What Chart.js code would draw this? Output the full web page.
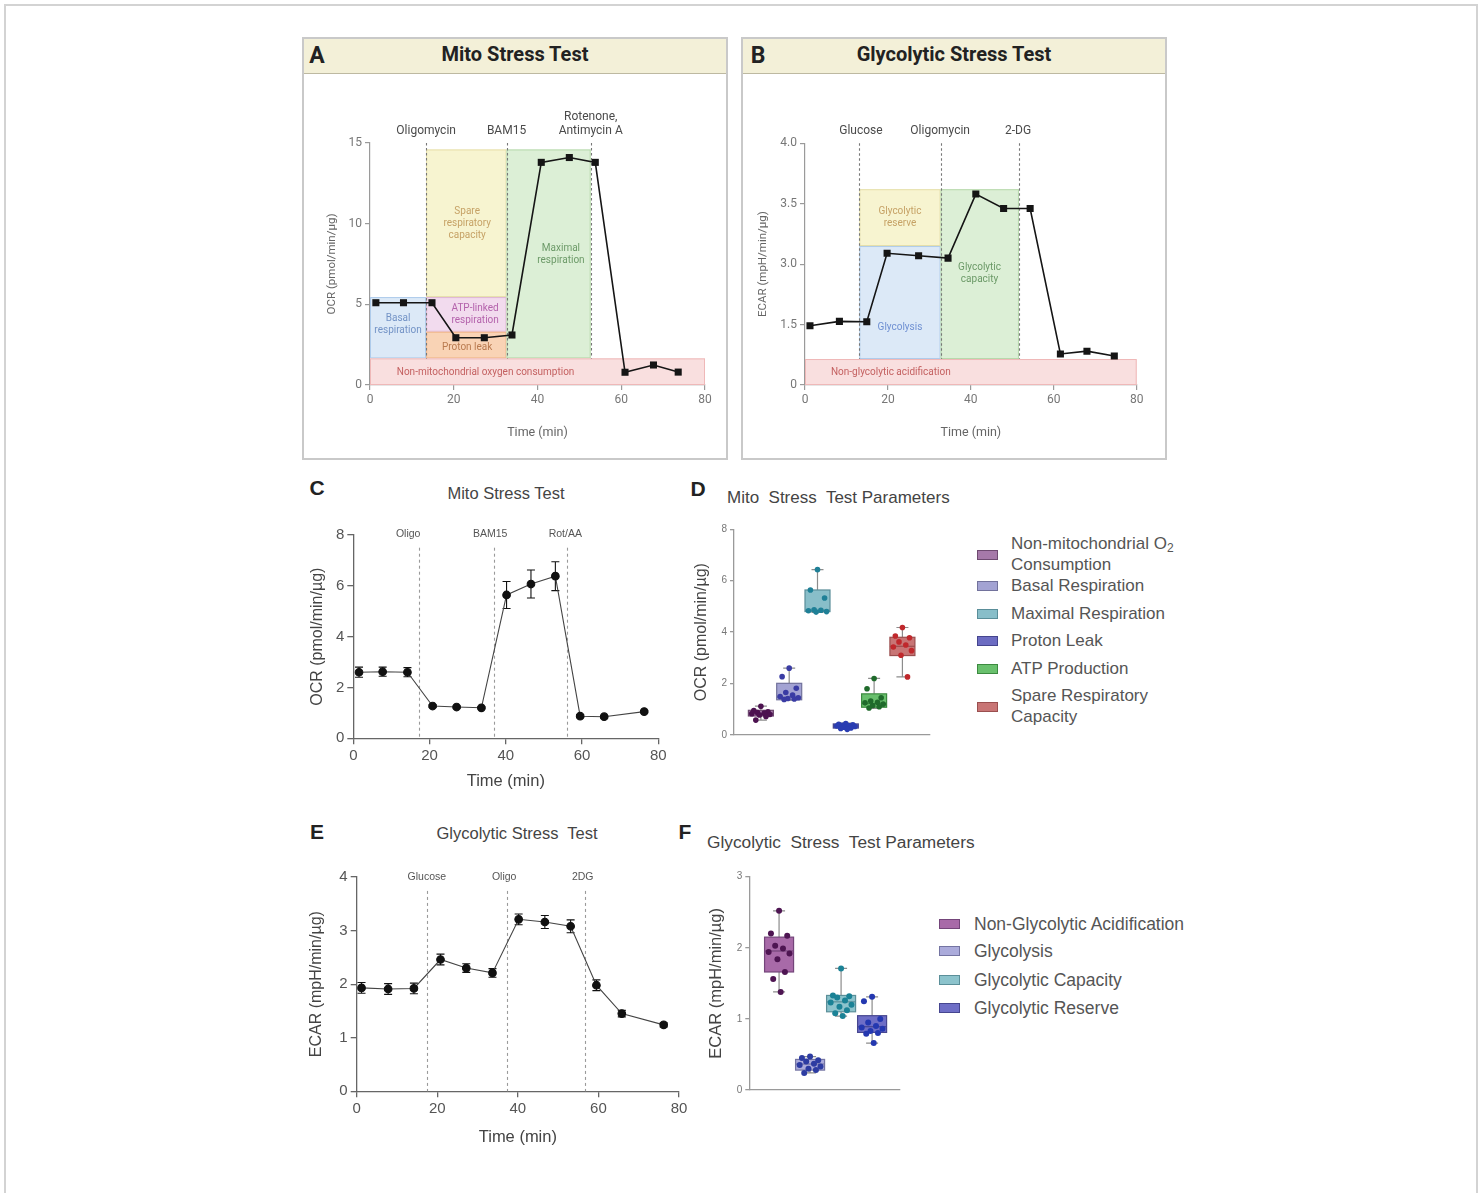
<!DOCTYPE html>
<html>
<head>
<meta charset="utf-8">
<script src="https://cdn.jsdelivr.net/npm/chart.js@4.4.1/dist/chart.umd.min.js"></script>
<style>
  body { margin: 0; background: #fff; width: 1483px; height: 1193px; overflow: hidden; position: relative;
         font-family: 'Liberation Sans', Arial, sans-serif; }
  #frame { position: absolute; left: 4px; top: 4px; width: 1470px; height: 1200px;
           border: 2px solid #d3d3d3; border-bottom: none; }
  .panel { position: absolute; top: 37px; width: 426px; height: 423px; box-sizing: border-box;
           border: 2px solid #c9c9c9; background: #fff; }
  .head { position: absolute; left: 0; top: 0; right: 0; height: 34px; background: #f3f0d8;
          border-bottom: 1.5px solid #bdb9a1; }
  .t { position: absolute; white-space: pre; line-height: 1; }
  .sw { position: absolute; width: 21px; height: 10px; box-sizing: border-box; border: 1px solid; }
</style>
</head>
<body>
<div id="frame"></div>
<div class="panel" style="left:302px"><div class="head"></div></div>
<div class="panel" style="left:741px"><div class="head"></div></div>

<script>
/* ---------- data ---------- */
// A: schematic mito stress test (OCR)
const aTime = [1.4, 8, 14.8, 20.5, 27.3, 33.9, 40.9, 47.6, 53.8, 60.9, 67.7, 73.6];
const aOcr = [5.1, 5.1, 5.1, 2.93, 2.93, 3.1, 13.8, 14.1, 13.8, 0.79, 1.24, 0.8];

// B: schematic glycolytic stress test (ECAR), y axis has uneven tick values
const bTime = [1.2, 8.3, 14.9, 19.8, 27.4, 34.5, 41.2, 47.9, 54.3, 61.6, 68.0, 74.6];
const bEcar = [1.47, 1.58, 1.57, 3.09, 3.07, 3.05, 3.58, 3.46, 3.46, 0.77, 0.84, 0.72];
const bTickVals = [0, 1.5, 3.0, 3.5, 4.0];
const bTickLabels = ['0', '1.5', '3.0', '3.5', '4.0'];

// C: measured OCR, mean and error
const cTime = [1.5, 7.7, 14.2, 20.8, 27.1, 33.6, 40.2, 46.6, 53.0, 59.5, 65.8, 76.3];
const cOcr = [2.6, 2.62, 2.6, 1.27, 1.23, 1.2, 5.64, 6.07, 6.38, 0.87, 0.85, 1.05];
const cErr = [0.2, 0.18, 0.18, 0.05, 0.04, 0.04, 0.53, 0.55, 0.57, 0.05, 0.04, 0.04];

// E: measured ECAR, mean and error
const eTime = [1.2, 7.8, 14.2, 20.8, 27.2, 33.7, 40.2, 46.7, 53.1, 59.5, 65.8, 76.2];
const eEcar = [1.93, 1.91, 1.92, 2.46, 2.3, 2.21, 3.21, 3.16, 3.08, 1.98, 1.45, 1.24];
const eErr = [0.1, 0.1, 0.1, 0.1, 0.08, 0.08, 0.1, 0.12, 0.12, 0.1, 0.06, 0.04];

// D: mito stress test parameters (box plots)
const dNames = ['Non-mitochondrial O2 Consumption', 'Basal Respiration', 'Maximal Respiration',
                'Proton Leak', 'ATP Production', 'Spare Respiratory Capacity'];
const dMin = [0.58, 1.36, 4.77, 0.22, 1.03, 2.26];
const dQ1  = [0.74, 1.37, 4.80, 0.27, 1.08, 3.09];
const dMed = [0.84, 1.47, 4.85, 0.35, 1.22, 3.45];
const dQ3  = [0.96, 2.01, 5.64, 0.43, 1.60, 3.80];
const dMax = [1.12, 2.60, 6.43, 0.46, 2.20, 4.18];
const dPoints = [
  [1.12, 0.95, 0.9, 0.87, 0.85, 0.83, 0.8, 0.78, 0.72, 0.58],
  [2.6, 2.27, 1.82, 1.65, 1.55, 1.5, 1.45, 1.42, 1.4, 1.38],
  [6.43, 5.64, 5.33, 4.87, 4.85, 4.83, 4.8, 4.78],
  [0.45, 0.42, 0.4, 0.38, 0.36, 0.35, 0.33, 0.3, 0.27, 0.25, 0.22],
  [2.2, 1.8, 1.45, 1.32, 1.27, 1.25, 1.2, 1.15, 1.1, 1.05],
  [4.18, 3.85, 3.78, 3.62, 3.5, 3.42, 3.28, 3.1, 2.26]
];

// F: glycolytic stress test parameters (box plots)
const fNames = ['Non-Glycolytic Acidification', 'Glycolysis', 'Glycolytic Capacity', 'Glycolytic Reserve'];
const fMin = [1.38, 0.24, 1.04, 0.66];
const fQ1  = [1.66, 0.28, 1.10, 0.81];
const fMed = [1.955, 0.365, 1.24, 0.89];
const fQ3  = [2.15, 0.43, 1.33, 1.045];
const fMax = [2.52, 0.47, 1.71, 1.31];
const fPoints = [
  [2.52, 2.2, 2.17, 2.03, 1.99, 1.94, 1.92, 1.84, 1.66, 1.56, 1.38],
  [0.47, 0.45, 0.42, 0.4, 0.37, 0.35, 0.33, 0.3, 0.28, 0.24],
  [1.71, 1.33, 1.32, 1.3, 1.26, 1.23, 1.2, 1.17, 1.12, 1.08, 1.04],
  [1.31, 1.25, 1.0, 0.95, 0.9, 0.88, 0.86, 0.83, 0.8, 0.79, 0.66]
];

/* ---------- helpers ---------- */
const ROBOTO = 'Roboto';
const ARIAL = 'Liberation Sans';
const JITTER = [0, -0.25, 0.25, -0.12, 0.12, -0.32, 0.32, -0.05, 0.18, -0.18, 0.05, 0.28];

// piecewise map for panel B's uneven axis: tick i sits at axis position i
function toB(v) {
  for (let i = 1; i < bTickVals.length; i++) {
    if (v <= bTickVals[i]) {
      return i - 1 + (v - bTickVals[i - 1]) / (bTickVals[i] - bTickVals[i - 1]);
    }
  }
  return bTickVals.length - 1;
}

function txt(s, x, y, css, align) {
  const d = document.createElement('div');
  d.className = 't';
  d.innerHTML = s;
  d.style.cssText += `left:${x}px;top:${y}px;${css}`;
  d.style.transform = align === 'left' ? 'translate(0,-50%)' : 'translate(-50%,-50%)';
  document.body.appendChild(d);
}

function makeCanvas(left, top, w, h) {
  const c = document.createElement('canvas');
  c.width = w;
  c.height = h;
  c.style.cssText = `position:absolute;left:${left}px;top:${top}px;width:${w}px;height:${h}px`;
  document.body.appendChild(c);
  return c;
}

function xy(xs, ys) {
  return xs.map((t, i) => ({x: t, y: ys[i]}));
}

// regions, injection markers, box plots and error bars, all placed through the chart scales
const extras = {
  id: 'extras',
  beforeDatasetsDraw(chart, args, o) {
    const {ctx, chartArea: ca, scales: {x, y}} = chart;
    ctx.save();
    (o.regions || []).forEach(r => {
      const x0 = x.getPixelForValue(r.x0), x1 = x.getPixelForValue(r.x1);
      const y0 = y.getPixelForValue(r.y0), y1 = y.getPixelForValue(r.y1);
      ctx.fillStyle = r.fill;
      ctx.fillRect(x0, y1, x1 - x0, y0 - y1);
      ctx.strokeStyle = r.stroke;
      ctx.lineWidth = 1;
      ctx.strokeRect(x0 + 0.5, y1 + 0.5, x1 - x0 - 1, y0 - y1 - 1);
    });
    (o.regions || []).forEach(r => {
      ctx.fillStyle = r.color;
      ctx.font = `10px ${ROBOTO}`;
      ctx.textAlign = 'center';
      ctx.textBaseline = 'middle';
      const px = x.getPixelForValue(r.lx), py = y.getPixelForValue(r.ly);
      const n = r.label.length;
      r.label.forEach((l, i) => ctx.fillText(l, px, py + (i - (n - 1) / 2) * 12));
    });
    (o.markers || []).forEach(m => {
      const px = Math.round(x.getPixelForValue(m.x)) + 0.5;
      ctx.strokeStyle = o.markerColor;
      ctx.lineWidth = 1.1;
      ctx.setLineDash(o.dash);
      ctx.beginPath();
      ctx.moveTo(px, y.getPixelForValue(m.top));
      ctx.lineTo(px, y.getPixelForValue(m.bottom));
      ctx.stroke();
      ctx.setLineDash([]);
      ctx.fillStyle = o.labelColor;
      ctx.font = o.labelFont;
      ctx.textAlign = 'center';
      ctx.textBaseline = 'middle';
      const lx = x.getPixelForValue(m.lx !== undefined ? m.lx : m.x);
      const n = m.label.length;
      m.label.forEach((l, i) => ctx.fillText(l, lx, ca.top + o.labelDy - (n - 1 - i) * 14));
    });
    (o.boxes || []).forEach(b => {
      const cx = x.getPixelForValue(b.x), hw = o.boxWidth / 2, cw = o.capWidth / 2;
      const pMin = y.getPixelForValue(b.min), pQ1 = y.getPixelForValue(b.q1);
      const pMed = y.getPixelForValue(b.med), pQ3 = y.getPixelForValue(b.q3);
      const pMax = y.getPixelForValue(b.max);
      ctx.strokeStyle = '#8c8c8c';
      ctx.lineWidth = 1.2;
      ctx.beginPath();
      ctx.moveTo(cx, pMax); ctx.lineTo(cx, pQ3);
      ctx.moveTo(cx, pQ1); ctx.lineTo(cx, pMin);
      ctx.moveTo(cx - cw, pMax); ctx.lineTo(cx + cw, pMax);
      ctx.moveTo(cx - cw, pMin); ctx.lineTo(cx + cw, pMin);
      ctx.stroke();
      ctx.fillStyle = b.fill;
      ctx.fillRect(cx - hw, pQ3, 2 * hw, pQ1 - pQ3);
      ctx.strokeStyle = b.stroke;
      ctx.strokeRect(cx - hw, pQ3, 2 * hw, pQ1 - pQ3);
      ctx.beginPath();
      ctx.moveTo(cx - hw, pMed); ctx.lineTo(cx + hw, pMed);
      ctx.stroke();
    });
    if (o.errors) {
      ctx.strokeStyle = '#111';
      ctx.lineWidth = 1.1;
      o.errors.values.forEach((v, i) => {
        const px = x.getPixelForValue(o.errors.xs[i]);
        const top = y.getPixelForValue(v + o.errors.err[i]);
        const bot = y.getPixelForValue(v - o.errors.err[i]);
        ctx.beginPath();
        ctx.moveTo(px, top); ctx.lineTo(px, bot);
        ctx.moveTo(px - 4, top); ctx.lineTo(px + 4, top);
        ctx.moveTo(px - 4, bot); ctx.lineTo(px + 4, bot);
        ctx.stroke();
      });
    }
    ctx.restore();
  }
};
Chart.register(extras);

function axis(opts) {
  return {
    type: 'linear',
    min: opts.min,
    max: opts.max,
    afterFit: opts.fit,
    ticks: {
      display: opts.ticks !== false,
      stepSize: opts.step,
      color: opts.tickColor,
      font: {family: opts.family, size: opts.tickSize},
      padding: 3,
      maxRotation: 0,
      autoSkip: false,
      callback: opts.callback
    },
    grid: {display: opts.ticks !== false, drawOnChartArea: false, drawTicks: true,
           tickLength: opts.tickLength, color: opts.lineColor, lineWidth: opts.lineWidth},
    border: {display: true, color: opts.lineColor, width: opts.lineWidth},
    title: {display: !!opts.title, text: opts.title, color: opts.titleColor,
            font: {family: opts.family, size: opts.titleSize},
            padding: {top: opts.titlePad, bottom: opts.titlePad}}
  };
}

function baseOptions(pad, extra, xScale, yScale) {
  return {
    responsive: false,
    animation: false,
    layout: {padding: {top: pad.top, right: pad.right, left: 0, bottom: 0}},
    plugins: {legend: {display: false}, tooltip: {enabled: false}, extras: extra},
    scales: {x: xScale, y: yScale}
  };
}

/* ---------- A: Mito Stress Test schematic ---------- */
txt('A', 317, 55, `font:bold 23px ${ROBOTO};color:#222`);
txt('Mito Stress Test', 515, 54, `font:bold 20px ${ROBOTO};color:#222`);

const aRegions = [
  {x0: 0, x1: 13.4, y0: 1.65, y1: 5.45, fill: '#dce9f7', stroke: '#aecbeb', color: '#7393c6', lx: 6.7, ly: 3.78, label: ['Basal', 'respiration']},
  {x0: 13.4, x1: 32.6, y0: 5.45, y1: 14.6, fill: '#f7f4d0', stroke: '#e6dfaa', color: '#c6a266', lx: 23.2, ly: 10.0, label: ['Spare', 'respiratory', 'capacity']},
  {x0: 13.4, x1: 32.6, y0: 3.3, y1: 5.45, fill: '#f2dbee', stroke: '#dfb6d4', color: '#b463ac', lx: 25.1, ly: 4.4, label: ['ATP-linked', 'respiration']},
  {x0: 13.4, x1: 32.6, y0: 1.65, y1: 3.3, fill: '#f9d3b5', stroke: '#efb68c', color: '#b97a4f', lx: 23.2, ly: 2.3, label: ['Proton leak']},
  {x0: 32.6, x1: 52.7, y0: 1.65, y1: 14.6, fill: '#dcefd6', stroke: '#b6d9ab', color: '#6c9a68', lx: 45.6, ly: 8.06, label: ['Maximal', 'respiration']},
  {x0: 0, x1: 80, y0: 0, y1: 1.65, fill: '#f9dfdf', stroke: '#efb8b8', color: '#c46161', lx: 27.6, ly: 0.8, label: ['Non-mitochondrial oxygen consumption']}
];
const aMarkers = [
  {x: 13.4, top: 15, bottom: 1.65, label: ['Oligomycin']},
  {x: 32.6, top: 15, bottom: 1.65, label: ['BAM15']},
  {x: 52.7, top: 15, bottom: 1.65, label: ['Rotenone,', 'Antimycin A']}
];

new Chart(makeCanvas(310, 80, 410, 370), {
  type: 'line',
  data: {datasets: [{data: xy(aTime, aOcr), borderColor: '#151515', borderWidth: 1.6,
                     pointStyle: 'rect', pointRadius: 5, pointBackgroundColor: '#151515',
                     pointBorderColor: '#151515', pointBorderWidth: 0}]},
  options: baseOptions({top: 63, right: 15},
    {regions: aRegions, markers: aMarkers, markerColor: '#777', dash: [2.5, 2.5],
     labelColor: '#4a4a4a', labelFont: `12px ${ROBOTO}`, labelDy: -12.5},
    axis({min: 0, max: 80, step: 20, family: ROBOTO, tickSize: 12, tickColor: '#777', tickLength: 5,
          lineColor: '#9a9a9a', lineWidth: 1.2, title: 'Time (min)', titleColor: '#666', titleSize: 12.5,
          titlePad: 10, fit: s => { s.height = 65; }}),
    axis({min: 0, max: 15, step: 5, family: ROBOTO, tickSize: 12, tickColor: '#777', tickLength: 5,
          lineColor: '#9a9a9a', lineWidth: 1.2, title: 'OCR (pmol/min/µg)', titleColor: '#666', titleSize: 11.5,
          titlePad: 14.8, fit: s => { s.width = 60; }}))
});

/* ---------- B: Glycolytic Stress Test schematic ---------- */
txt('B', 758, 55, `font:bold 23px ${ROBOTO};color:#222`);
txt('Glycolytic Stress Test', 954, 54, `font:bold 20px ${ROBOTO};color:#222`);

const bRegions = [
  {x0: 13.1, x1: 32.7, y0: 0.645, y1: 3.15, fill: '#dce9f7', stroke: '#aecbeb', color: '#6f90d2', lx: 22.9, ly: 1.42, label: ['Glycolysis']},
  {x0: 13.1, x1: 32.7, y0: 3.15, y1: 3.62, fill: '#f7f4d0', stroke: '#e6dfaa', color: '#c6a266', lx: 22.9, ly: 3.39, label: ['Glycolytic', 'reserve']},
  {x0: 32.7, x1: 51.6, y0: 0.645, y1: 3.62, fill: '#dcefd6', stroke: '#b6d9ab', color: '#6c9a68', lx: 42.1, ly: 2.76, label: ['Glycolytic', 'capacity']},
  {x0: 0, x1: 80, y0: 0, y1: 0.645, fill: '#f9dfdf', stroke: '#efb8b8', color: '#c46161', lx: 20.7, ly: 0.32, label: ['Non-glycolytic acidification']}
].map(r => Object.assign({}, r, {y0: toB(r.y0), y1: toB(r.y1), ly: toB(r.ly)}));
const bMarkers = [
  {x: 13.1, lx: 13.5, top: toB(4.0), bottom: toB(0.645), label: ['Glucose']},
  {x: 32.7, lx: 32.6, top: toB(4.0), bottom: toB(0.645), label: ['Oligomycin']},
  {x: 51.6, lx: 51.4, top: toB(4.0), bottom: toB(0.645), label: ['2-DG']}
];

new Chart(makeCanvas(750, 80, 405, 370), {
  type: 'line',
  data: {datasets: [{data: xy(bTime, bEcar.map(toB)), borderColor: '#151515', borderWidth: 1.6,
                     pointStyle: 'rect', pointRadius: 5, pointBackgroundColor: '#151515',
                     pointBorderColor: '#151515', pointBorderWidth: 0}]},
  options: baseOptions({top: 63.3, right: 18.3},
    {regions: bRegions, markers: bMarkers, markerColor: '#777', dash: [2.5, 2.5],
     labelColor: '#4a4a4a', labelFont: `12px ${ROBOTO}`, labelDy: -12.5},
    axis({min: 0, max: 80, step: 20, family: ROBOTO, tickSize: 12, tickColor: '#777', tickLength: 5,
          lineColor: '#9a9a9a', lineWidth: 1.2, title: 'Time (min)', titleColor: '#666', titleSize: 12.5,
          titlePad: 10, fit: s => { s.height = 65; }}),
    axis({min: 0, max: bTickVals.length - 1, step: 1, family: ROBOTO, tickSize: 12, tickColor: '#777', tickLength: 5,
          lineColor: '#9a9a9a', lineWidth: 1.2, title: 'ECAR (mpH/min/µg)', titleColor: '#666', titleSize: 11.5,
          titlePad: 6.4, callback: v => bTickLabels[v], fit: s => { s.width = 55; }}))
});

/* ---------- C: measured Mito Stress Test ---------- */
txt('C', 317, 488, `font:bold 21px ${ARIAL};color:#222`);
txt('Mito Stress Test', 506, 493, `font:16.5px ${ARIAL};color:#444`);

const cMarkers = [
  {x: 17.2, lx: 14.4, top: 7.5, bottom: 0, label: ['Oligo']},
  {x: 36.8, lx: 35.9, top: 7.5, bottom: 0, label: ['BAM15']},
  {x: 56.1, lx: 55.6, top: 7.5, bottom: 0, label: ['Rot/AA']}
];

new Chart(makeCanvas(305, 520, 370, 280), {
  type: 'line',
  data: {datasets: [{data: xy(cTime, cOcr), borderColor: '#444', borderWidth: 1.1,
                     pointRadius: 3.8, pointBackgroundColor: '#111', pointBorderColor: '#111'}]},
  options: baseOptions({top: 15, right: 16.7},
    {markers: cMarkers, markerColor: '#9a9a9a', dash: [3, 3], labelColor: '#555',
     labelFont: `10.5px ${ARIAL}`, labelDy: -1,
     errors: {xs: cTime, values: cOcr, err: cErr}},
    axis({min: 0, max: 80, step: 20, family: ARIAL, tickSize: 15, tickColor: '#555', tickLength: 6,
          lineColor: '#666', lineWidth: 1.3, title: 'Time (min)', titleColor: '#444', titleSize: 16.5,
          titlePad: 9, fit: s => { s.height = 61.7; }}),
    axis({min: 0, max: 8, step: 2, family: ARIAL, tickSize: 15, tickColor: '#555', tickLength: 6,
          lineColor: '#666', lineWidth: 1.3, title: 'OCR (pmol/min/µg)', titleColor: '#444', titleSize: 16,
          titlePad: 3.4, fit: s => { s.width = 48.3; }}))
});

/* ---------- D: mito stress test parameters ---------- */
txt('D', 698, 489, `font:bold 21px ${ARIAL};color:#222`);
txt('Mito  Stress  Test Parameters', 727, 498, `font:17px ${ARIAL};color:#444`, 'left');

const dFill = ['#a679a9', '#a3a3d3', '#88bec9', '#6c6cc2', '#69c06d', '#c87575'];
const dStroke = ['#6e4a70', '#72729c', '#5a8e99', '#45458e', '#3c8a40', '#9a4f4f'];
const dDot = ['#4c1250', '#3a3ca4', '#1f8097', '#2a3db2', '#1f6a2b', '#c0282c'];
const dBoxes = dNames.map((n, i) => ({x: i + 1, min: dMin[i], q1: dQ1[i], med: dMed[i], q3: dQ3[i],
                                       max: dMax[i], fill: dFill[i], stroke: dStroke[i]}));

new Chart(makeCanvas(690, 515, 250, 230), {
  type: 'scatter',
  data: {datasets: dPoints.map((pts, i) => ({
    data: pts.map((v, j) => ({x: i + 1 + JITTER[j % JITTER.length], y: v})),
    pointRadius: 2.8, pointBackgroundColor: dDot[i], pointBorderColor: dDot[i], pointBorderWidth: 0
  }))},
  options: baseOptions({top: 14.3, right: 10.7},
    {boxes: dBoxes, boxWidth: 25, capWidth: 12},
    axis({min: 0.05, max: 6.95, ticks: false, family: ARIAL, lineColor: '#9a9a9a', lineWidth: 1.3,
          fit: s => { s.height = 10; }}),
    axis({min: 0, max: 8, step: 2, family: ARIAL, tickSize: 10, tickColor: '#777', tickLength: 4,
          lineColor: '#9a9a9a', lineWidth: 1.3, title: 'OCR (pmol/min/µg)', titleColor: '#444', titleSize: 16,
          titlePad: 2.1, fit: s => { s.width = 44; }}))
});

// legend D
const dLegendY = [554.5, 586, 614, 641, 669, 706.5];
const dLegendText = [['Non-mitochondrial O<sub style="font-size:12px;vertical-align:-3px">2</sub>', 'Consumption'],
                     ['Basal Respiration'], ['Maximal Respiration'], ['Proton Leak'], ['ATP Production'],
                     ['Spare Respiratory', 'Capacity']];
dLegendY.forEach((cy, i) => {
  const s = document.createElement('div');
  s.className = 'sw';
  s.style.cssText += `left:977px;top:${cy - 5}px;background:${dFill[i]};border-color:${dStroke[i]}`;
  document.body.appendChild(s);
  const lines = dLegendText[i];
  lines.forEach((l, k) => txt(l, 1011, cy + (k - (lines.length - 1) / 2) * 21.5,
                              `font:17px ${ARIAL};color:#555`, 'left'));
});

/* ---------- E: measured Glycolytic Stress Test ---------- */
txt('E', 317, 832, `font:bold 21px ${ARIAL};color:#222`);
txt('Glycolytic Stress  Test', 517, 833, `font:16.5px ${ARIAL};color:#444`);

const eMarkers = [
  {x: 17.4, lx: 17.4, top: 3.74, bottom: 0, label: ['Glucose']},
  {x: 37.3, lx: 36.6, top: 3.74, bottom: 0, label: ['Oligo']},
  {x: 56.7, lx: 56.1, top: 3.74, bottom: 0, label: ['2DG']}
];

new Chart(makeCanvas(305, 862, 390, 293), {
  type: 'line',
  data: {datasets: [{data: xy(eTime, eEcar), borderColor: '#444', borderWidth: 1.1,
                     pointRadius: 3.8, pointBackgroundColor: '#111', pointBorderColor: '#111'}]},
  options: baseOptions({top: 15, right: 16},
    {markers: eMarkers, markerColor: '#9a9a9a', dash: [3, 3], labelColor: '#555',
     labelFont: `10.5px ${ARIAL}`, labelDy: 0.5,
     errors: {xs: eTime, values: eEcar, err: eErr}},
    axis({min: 0, max: 80, step: 20, family: ARIAL, tickSize: 15, tickColor: '#555', tickLength: 6,
          lineColor: '#666', lineWidth: 1.3, title: 'Time (min)', titleColor: '#444', titleSize: 16.5,
          titlePad: 8, fit: s => { s.height = 63.7; }}),
    axis({min: 0, max: 4, step: 1, family: ARIAL, tickSize: 15, tickColor: '#555', tickLength: 6,
          lineColor: '#666', lineWidth: 1.3, title: 'ECAR (mpH/min/µg)', titleColor: '#444', titleSize: 16,
          titlePad: 2.1, fit: s => { s.width = 51.7; }}))
});

/* ---------- F: glycolytic stress test parameters ---------- */
txt('F', 685, 832, `font:bold 21px ${ARIAL};color:#222`);
txt('Glycolytic  Stress  Test Parameters', 707, 842, `font:17.3px ${ARIAL};color:#444`, 'left');

const fFill = ['#a86aa8', '#ababdb', '#8cc3cc', '#6e6ec6'];
const fStroke = ['#74457a', '#7474a2', '#5b8f99', '#464690'];
const fDot = ['#4e1552', '#2d3ca2', '#1b8296', '#2438b0'];
const fBoxes = fNames.map((n, i) => ({x: i + 1, min: fMin[i], q1: fQ1[i], med: fMed[i], q3: fQ3[i],
                                       max: fMax[i], fill: fFill[i], stroke: fStroke[i]}));

new Chart(makeCanvas(700, 862, 210, 238), {
  type: 'scatter',
  data: {datasets: fPoints.map((pts, i) => ({
    data: pts.map((v, j) => ({x: i + 1 + JITTER[j % JITTER.length] * 1.05, y: v})),
    pointRadius: 3, pointBackgroundColor: fDot[i], pointBorderColor: fDot[i], pointBorderWidth: 0
  }))},
  options: baseOptions({top: 14.7, right: 10},
    {boxes: fBoxes, boxWidth: 29, capWidth: 12},
    axis({min: 0.04, max: 4.9, ticks: false, family: ARIAL, lineColor: '#9a9a9a', lineWidth: 1.3,
          fit: s => { s.height = 10; }}),
    axis({min: 0, max: 3, step: 1, family: ARIAL, tickSize: 10, tickColor: '#777', tickLength: 4,
          lineColor: '#9a9a9a', lineWidth: 1.3, title: 'ECAR (mpH/min/µg)', titleColor: '#444', titleSize: 16.5,
          titlePad: 6.8, fit: s => { s.width = 49.3; }}))
});

// legend F
const fLegendY = [924, 951, 979.5, 1008];
fLegendY.forEach((cy, i) => {
  const s = document.createElement('div');
  s.className = 'sw';
  s.style.cssText += `left:939px;top:${cy - 5}px;background:${fFill[i]};border-color:${fStroke[i]}`;
  document.body.appendChild(s);
  txt(fNames[i], 974, cy, `font:17.5px ${ARIAL};color:#555`, 'left');
});
</script>
</body>
</html>
